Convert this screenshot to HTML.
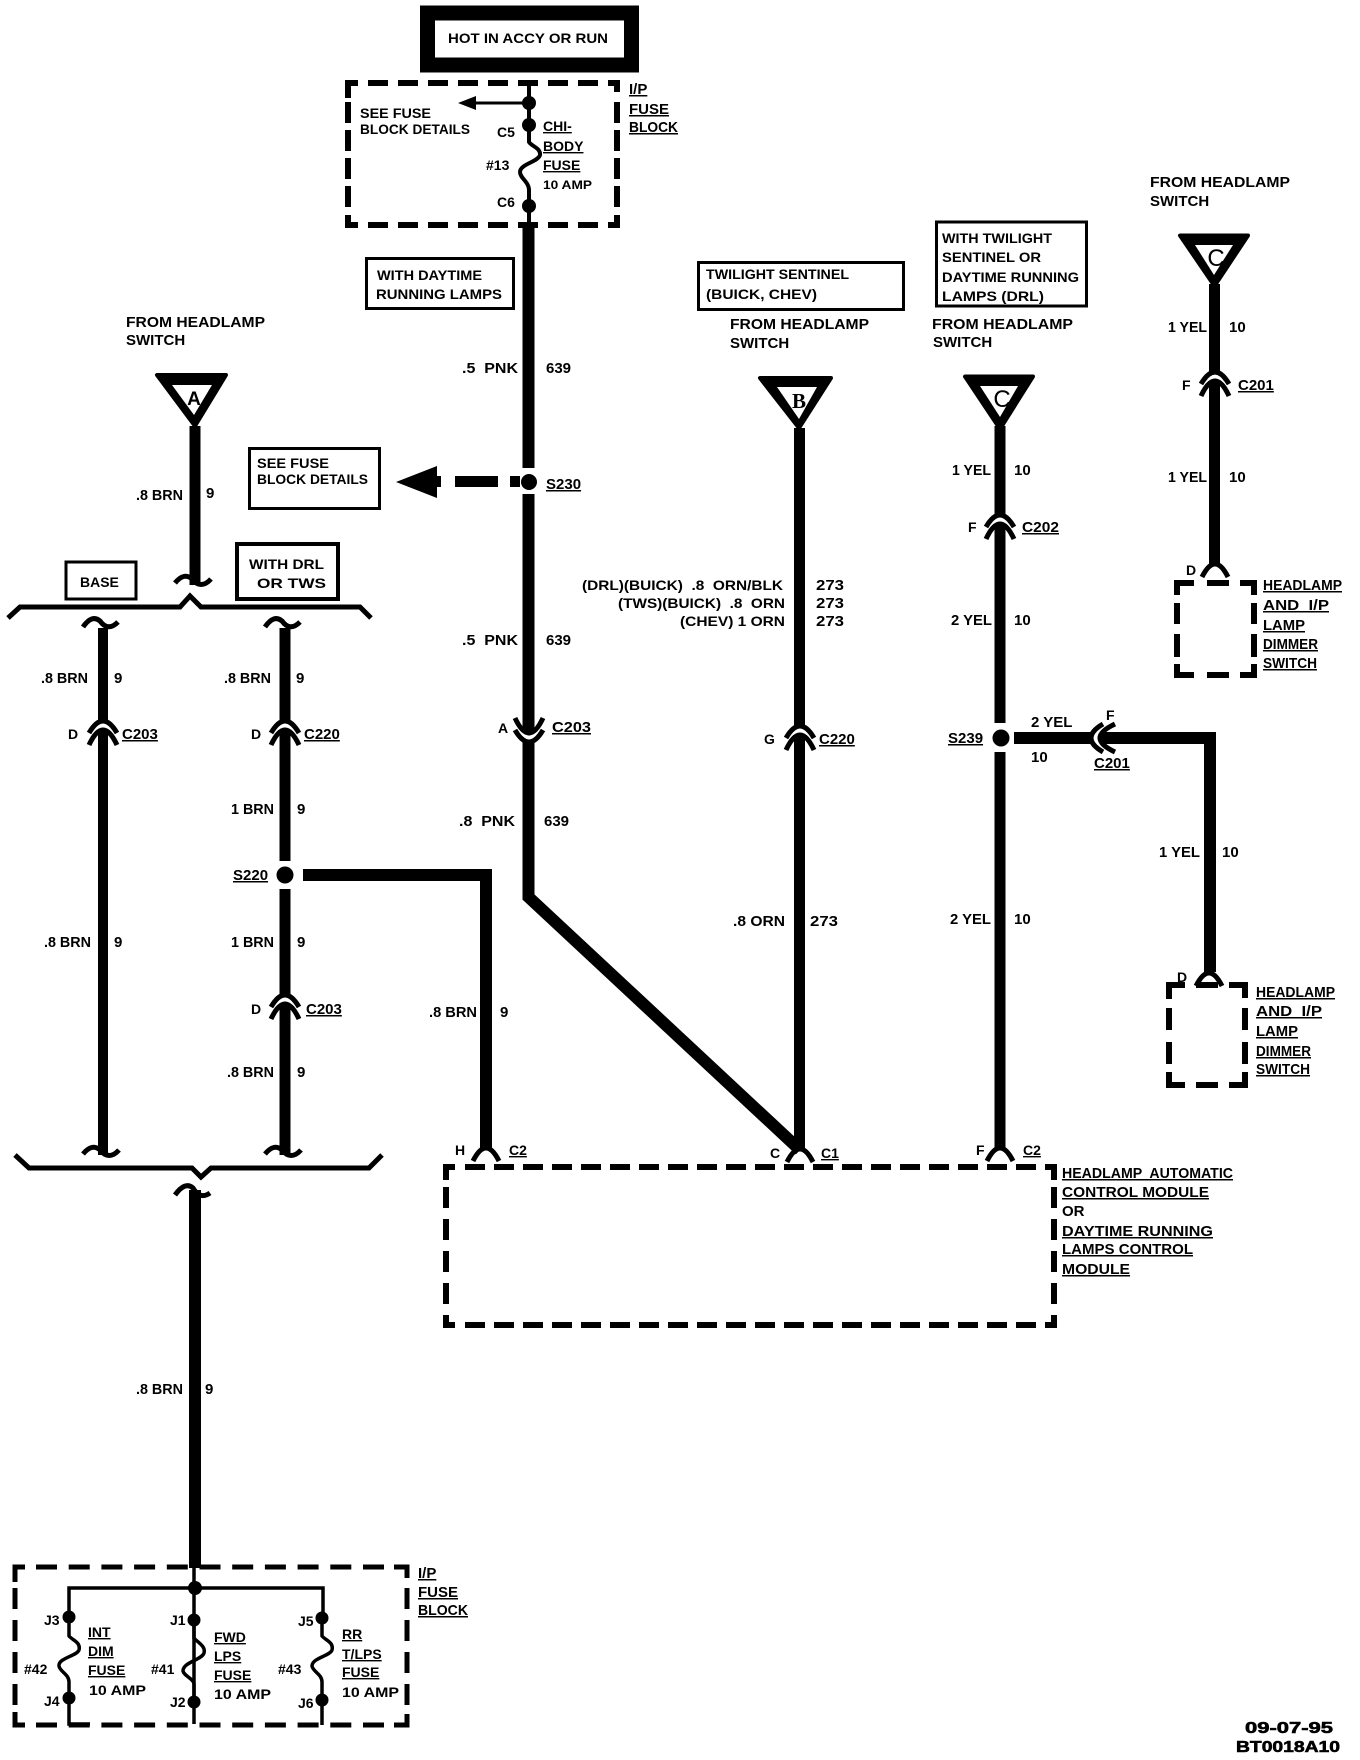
<!DOCTYPE html>
<html><head><meta charset="utf-8"><style>
html,body{margin:0;padding:0;background:#fff}
svg{display:block}
text{font:700 15px "Liberation Sans",sans-serif;fill:#000;white-space:pre}
.u{text-decoration:underline}
.s{font-size:14px}
.w{stroke:#000;fill:none;stroke-linejoin:miter}
.d{stroke:#000;fill:none;stroke-width:6}
</style></head><body>
<svg width="1360" height="1760" viewBox="0 0 1360 1760" xmlns="http://www.w3.org/2000/svg">
<defs>
<g id="cn">
<path d="M-10 3Q0 -18 10 3" fill="none" stroke="#fff" stroke-width="4"/>
<path d="M-14 0Q0 -24 14 0" fill="none" stroke="#000" stroke-width="5"/>
<path d="M-14 12Q0 -18 14 12" fill="none" stroke="#000" stroke-width="5"/>
</g>
<path id="cap" d="M-13 12Q0 -14 13 12" fill="none" stroke="#000" stroke-width="5"/>
<path id="smile" d="M-20 -1Q-11 -12 -3 -5Q6 6 16 -5" fill="none" stroke="#000" stroke-width="5"/>
</defs>
<rect width="1360" height="1760" fill="#fff"/>

<!-- top hot box -->
<rect x="427.500" y="13" width="204" height="52" fill="none" stroke="#000" stroke-width="15"/>
<text x="448" y="43" textLength="160" lengthAdjust="spacingAndGlyphs" class="s">HOT IN ACCY OR RUN</text>

<!-- I/P fuse box top -->
<g class="d">
<path d="M348 98V83H358"/><path d="M608 83H617V92"/><path d="M348 215V225H358"/><path d="M608 225H617V215"/>
<path d="M368 83H600" stroke-dasharray="20 10"/>
<path d="M368 225H600" stroke-dasharray="20 10"/>
<path d="M348 102V210" stroke-dasharray="21 7"/>
<path d="M617 102V210" stroke-dasharray="21 7"/>
</g>
<path class="w" stroke-width="4" d="M529 84V142C531 146 541 148 540 155C538 162 520 164 520 172C520 178 529 182 529 190V226"/>
<path class="w" stroke-width="3" d="M529 103H470"/>
<polygon points="458,103 476,96 476,110" fill="#000"/>
<circle cx="529" cy="103" r="7"/><circle cx="529" cy="125" r="7"/><circle cx="529" cy="206" r="7"/>
<text x="360" y="118" textLength="71" lengthAdjust="spacingAndGlyphs" class="s">SEE FUSE</text>
<text x="360" y="134" textLength="110" lengthAdjust="spacingAndGlyphs" class="s">BLOCK DETAILS</text>
<text x="497" y="137" class="s">C5</text><text x="486" y="170" class="s">#13</text><text x="497" y="207" class="s">C6</text>
<text x="543" y="131" class="s u">CHI-</text><text x="543" y="151" class="s u">BODY</text><text x="543" y="170" class="s u">FUSE</text>
<text x="543" y="189" textLength="49" lengthAdjust="spacingAndGlyphs" style="font-size:12px">10 AMP</text>
<text x="629" y="94" class="u">I/P</text><text x="629" y="114" class="u">FUSE</text><text x="629" y="132" class="u" textLength="49" lengthAdjust="spacingAndGlyphs">BLOCK</text>

<!-- info boxes -->
<rect x="366.500" y="258.500" width="147" height="50" fill="none" stroke="#000" stroke-width="3"/>
<text x="377" y="280" textLength="105" lengthAdjust="spacingAndGlyphs" class="s">WITH DAYTIME</text>
<text x="376" y="299" textLength="126" lengthAdjust="spacingAndGlyphs" class="s">RUNNING LAMPS</text>
<rect x="698.500" y="262.500" width="205" height="47" fill="none" stroke="#000" stroke-width="3"/>
<text x="706" y="279" textLength="143" lengthAdjust="spacingAndGlyphs" class="s">TWILIGHT SENTINEL</text>
<text x="706" y="299" textLength="111" lengthAdjust="spacingAndGlyphs" class="s">(BUICK, CHEV)</text>
<rect x="936.500" y="222" width="150" height="84" fill="none" stroke="#000" stroke-width="3"/>
<text x="942" y="243" textLength="110" lengthAdjust="spacingAndGlyphs" class="s">WITH TWILIGHT</text>
<text x="942" y="262" textLength="99" lengthAdjust="spacingAndGlyphs" class="s">SENTINEL OR</text>
<text x="942" y="282" textLength="137" lengthAdjust="spacingAndGlyphs" class="s">DAYTIME RUNNING</text>
<text x="942" y="301" textLength="102" lengthAdjust="spacingAndGlyphs" class="s">LAMPS (DRL)</text>
<rect x="249.500" y="448.500" width="130" height="60" fill="none" stroke="#000" stroke-width="3"/>
<text x="257" y="468" textLength="72" lengthAdjust="spacingAndGlyphs" class="s">SEE FUSE</text>
<text x="257" y="484" textLength="111" lengthAdjust="spacingAndGlyphs" class="s">BLOCK DETAILS</text>
<rect x="66" y="562" width="70" height="37" fill="none" stroke="#000" stroke-width="3"/>
<text x="80" y="587" class="s">BASE</text>
<rect x="237" y="544" width="101" height="55" fill="none" stroke="#000" stroke-width="4"/>
<text x="249" y="569" textLength="75" lengthAdjust="spacingAndGlyphs" class="s">WITH DRL</text>
<text x="257" y="588" textLength="69" lengthAdjust="spacingAndGlyphs" class="s">OR TWS</text>

<!-- FROM HEADLAMP -->
<text x="126" y="327" textLength="139" lengthAdjust="spacingAndGlyphs">FROM HEADLAMP</text><text x="126" y="345">SWITCH</text>
<text x="730" y="329" textLength="139" lengthAdjust="spacingAndGlyphs">FROM HEADLAMP</text><text x="730" y="348">SWITCH</text>
<text x="932" y="329" textLength="141" lengthAdjust="spacingAndGlyphs">FROM HEADLAMP</text><text x="933" y="347">SWITCH</text>
<text x="1150" y="187" textLength="140" lengthAdjust="spacingAndGlyphs">FROM HEADLAMP</text><text x="1150" y="206">SWITCH</text>

<!-- wires -->
<g class="w" stroke-width="12">
<path d="M528.500 226V468M528.500 494V897L800 1150" stroke-linejoin="miter"/>
<path d="M799.500 428V1150" stroke-width="11"/>
<path d="M1000 426V723M1000 752V1150" stroke-width="11"/>
<path d="M1214.500 284V566" stroke-width="11"/>
<path d="M1014 738H1210V972"/>
<path d="M195 426V585" stroke-width="11"/>
<path d="M103 628V1155" stroke-width="10"/>
<path d="M285 628V861M285 889V1155" stroke-width="11"/>
<path d="M303 875H486V1150"/>
<path d="M195 1190V1568" stroke-width="12"/>
</g>

<!-- triangles -->
<g stroke="#000" stroke-width="4" stroke-linejoin="round">
<polygon points="157,375 226,375 195,426"/>
<polygon points="760,378 831,378 799,428"/>
<polygon points="965,376.500 1033,376.500 1000,429"/>
<polygon points="1180,235.500 1248,235.500 1214.500,286"/>
</g>
<polygon points="172,385 212,385 194,415" fill="#fff"/>
<polygon points="777,387 817,387 799,419" fill="#fff"/>
<polygon points="980,386 1018,386 1000,417" fill="#fff"/>
<polygon points="1195,245 1233,245 1214,275" fill="#fff"/>
<text x="194" y="405" text-anchor="middle" style="font-size:19px">A</text>
<text x="799" y="408" text-anchor="middle" style="font:700 21px 'Liberation Serif',serif">B</text>
<text x="1002" y="407" text-anchor="middle" style="font-size:24px;font-weight:400">C</text>
<text x="1216" y="266" text-anchor="middle" style="font-size:24px;font-weight:400">C</text>

<!-- brackets -->
<path class="w" stroke-width="5" d="M8 618L20 607H180L190 596L201 607H360L371 618"/>
<path class="w" stroke-width="5" d="M15 1155L29 1168H192L201 1177L211 1168H369L382 1155"/>
<use href="#smile" transform="translate(195,584)"/>
<path d="M83 627Q92 614 100 621Q108 632 118 622" fill="none" stroke="#000" stroke-width="5"/>
<path d="M265 627Q274 614 282 621Q290 632 300 622" fill="none" stroke="#000" stroke-width="5"/>
<use href="#smile" transform="translate(103,1155)"/>
<use href="#smile" transform="translate(285,1155)"/>
<path d="M175 1195Q185 1181 193 1188Q200 1200 210 1193" fill="none" stroke="#000" stroke-width="5"/>

<!-- connectors -->
<use href="#cn" transform="translate(103,733)"/>
<use href="#cn" transform="translate(285,733)"/>
<use href="#cn" transform="translate(285,1007)"/>
<use href="#cn" transform="translate(529,730) rotate(180)"/>
<use href="#cn" transform="translate(800,738)"/>
<use href="#cn" transform="translate(1000,527)"/>
<use href="#cn" transform="translate(1215,384)"/>
<use href="#cn" transform="translate(1103,738) rotate(-90)"/>
<use href="#cap" transform="translate(486,1149)"/>
<use href="#cap" transform="translate(800,1150)"/>
<use href="#cap" transform="translate(1000,1149)"/>
<use href="#cap" transform="translate(1215,565)"/>
<use href="#cap" transform="translate(1209,974)"/>

<!-- splices -->
<circle cx="529" cy="482" r="8"/><circle cx="285" cy="875" r="8.500"/><circle cx="1001" cy="738" r="8.500"/>
<rect x="510" y="476" width="10" height="11"/><rect x="455" y="476" width="43" height="11"/>
<polygon points="396,482 437,466 437,498"/><rect x="436" y="476" width="5" height="11"/>

<!-- wire labels -->
<text x="462" y="373" textLength="56" lengthAdjust="spacingAndGlyphs">.5  PNK</text><text x="546" y="373">639</text>
<text x="546" y="489" class="u">S230</text>
<text x="462" y="645" textLength="56" lengthAdjust="spacingAndGlyphs">.5  PNK</text><text x="546" y="645">639</text>
<text x="498" y="733" class="s">A</text><text x="552" y="732" class="u" textLength="39" lengthAdjust="spacingAndGlyphs">C203</text>
<text x="459" y="826" textLength="56" lengthAdjust="spacingAndGlyphs">.8  PNK</text><text x="544" y="826">639</text>
<text x="582" y="590" textLength="201" lengthAdjust="spacingAndGlyphs" class="s">(DRL)(BUICK)  .8  ORN/BLK</text><text x="816" y="590" textLength="28" lengthAdjust="spacingAndGlyphs">273</text>
<text x="618" y="608" textLength="167" lengthAdjust="spacingAndGlyphs" class="s">(TWS)(BUICK)  .8  ORN</text><text x="816" y="608" textLength="28" lengthAdjust="spacingAndGlyphs">273</text>
<text x="680" y="626" textLength="105" lengthAdjust="spacingAndGlyphs" class="s">(CHEV) 1 ORN</text><text x="816" y="626" textLength="28" lengthAdjust="spacingAndGlyphs">273</text>
<text x="764" y="744" class="s">G</text><text x="819" y="744" class="u">C220</text>
<text x="733" y="926" textLength="52" lengthAdjust="spacingAndGlyphs">.8 ORN</text><text x="810" y="926" textLength="28" lengthAdjust="spacingAndGlyphs">273</text>

<text x="136" y="500" textLength="47" lengthAdjust="spacingAndGlyphs">.8 BRN</text><text x="206" y="498">9</text>
<text x="41" y="683" textLength="47" lengthAdjust="spacingAndGlyphs">.8 BRN</text><text x="114" y="683">9</text>
<text x="224" y="683" textLength="47" lengthAdjust="spacingAndGlyphs">.8 BRN</text><text x="296" y="683">9</text>
<text x="68" y="739" class="s">D</text><text x="122" y="739" class="u">C203</text>
<text x="251" y="739" class="s">D</text><text x="304" y="739" class="u">C220</text>
<text x="231" y="814" textLength="43" lengthAdjust="spacingAndGlyphs">1 BRN</text><text x="297" y="814">9</text>
<text x="233" y="880" class="u">S220</text>
<text x="231" y="947" textLength="43" lengthAdjust="spacingAndGlyphs">1 BRN</text><text x="297" y="947">9</text>
<text x="44" y="947" textLength="47" lengthAdjust="spacingAndGlyphs">.8 BRN</text><text x="114" y="947">9</text>
<text x="251" y="1014" class="s">D</text><text x="306" y="1014" class="u">C203</text>
<text x="227" y="1077" textLength="47" lengthAdjust="spacingAndGlyphs">.8 BRN</text><text x="297" y="1077">9</text>
<text x="429" y="1017" textLength="48" lengthAdjust="spacingAndGlyphs">.8 BRN</text><text x="500" y="1017">9</text>
<text x="136" y="1394" textLength="47" lengthAdjust="spacingAndGlyphs">.8 BRN</text><text x="205" y="1394">9</text>

<text x="952" y="475" textLength="39" lengthAdjust="spacingAndGlyphs">1 YEL</text><text x="1014" y="475">10</text>
<text x="968" y="532" class="s">F</text><text x="1022" y="532" class="u" textLength="37" lengthAdjust="spacingAndGlyphs">C202</text>
<text x="951" y="625" textLength="41" lengthAdjust="spacingAndGlyphs">2 YEL</text><text x="1014" y="625">10</text>
<text x="948" y="743" class="u">S239</text>
<text x="1031" y="727">2 YEL</text><text x="1031" y="762">10</text>
<text x="1106" y="720" class="s">F</text><text x="1094" y="768" class="u">C201</text>
<text x="950" y="924" textLength="41" lengthAdjust="spacingAndGlyphs">2 YEL</text><text x="1014" y="924">10</text>
<text x="1159" y="857" textLength="41" lengthAdjust="spacingAndGlyphs">1 YEL</text><text x="1222" y="857">10</text>
<text x="1168" y="332" textLength="39" lengthAdjust="spacingAndGlyphs">1 YEL</text><text x="1229" y="332">10</text>
<text x="1182" y="390" class="s">F</text><text x="1238" y="390" class="u">C201</text>
<text x="1168" y="482" textLength="39" lengthAdjust="spacingAndGlyphs">1 YEL</text><text x="1229" y="482">10</text>

<!-- upper dimmer -->
<g class="d">
<path d="M1177 595V583H1194"/><path d="M1240 583H1254V595"/><path d="M1177 664V675H1194"/><path d="M1240 675H1254V664"/>
<path d="M1207 583H1229M1207 675H1229"/>
<path d="M1177 603V624M1177 634V657M1254 603V624M1254 634V657"/>
</g>
<text x="1186" y="575" class="s">D</text>
<text x="1263" y="590" class="u" textLength="79" lengthAdjust="spacingAndGlyphs">HEADLAMP</text><text x="1263" y="610" class="u" textLength="66" lengthAdjust="spacingAndGlyphs">AND  I/P</text><text x="1263" y="630" class="u" textLength="42" lengthAdjust="spacingAndGlyphs">LAMP</text><text x="1263" y="649" class="u" textLength="55" lengthAdjust="spacingAndGlyphs">DIMMER</text><text x="1263" y="668" class="u" textLength="54" lengthAdjust="spacingAndGlyphs">SWITCH</text>

<!-- lower dimmer -->
<g class="d">
<path d="M1169 999V985H1185"/><path d="M1229 985H1245V998"/><path d="M1169 1072V1085H1185"/><path d="M1229 1085H1245V1072"/>
<path d="M1196 985H1218M1196 1085H1218"/>
<path d="M1169 1008V1030M1169 1042V1064M1245 1008V1030M1245 1042V1064"/>
</g>
<text x="1177" y="982" class="s">D</text>
<text x="1256" y="997" class="u" textLength="79" lengthAdjust="spacingAndGlyphs">HEADLAMP</text><text x="1256" y="1016" class="u" textLength="66" lengthAdjust="spacingAndGlyphs">AND  I/P</text><text x="1256" y="1036" class="u" textLength="42" lengthAdjust="spacingAndGlyphs">LAMP</text><text x="1256" y="1056" class="u" textLength="55" lengthAdjust="spacingAndGlyphs">DIMMER</text><text x="1256" y="1074" class="u" textLength="54" lengthAdjust="spacingAndGlyphs">SWITCH</text>

<!-- module -->
<g class="d">
<path d="M446 1180V1167H455"/><path d="M1045 1167H1054V1180"/><path d="M446 1315V1325H455"/><path d="M1045 1325H1054V1315"/>
<path d="M465 1167H1038" stroke-dasharray="20 9"/>
<path d="M465 1325H1038" stroke-dasharray="20 9"/>
<path d="M446 1187V1305" stroke-dasharray="21 11"/>
<path d="M1054 1187V1305" stroke-dasharray="21 11"/>
</g>
<text x="455" y="1155" class="s">H</text><text x="509" y="1155" class="s u">C2</text>
<text x="770" y="1158" class="s">C</text><text x="821" y="1158" class="s u">C1</text>
<text x="976" y="1155" class="s">F</text><text x="1023" y="1155" class="s u">C2</text>
<text x="1062" y="1178" textLength="171" lengthAdjust="spacingAndGlyphs" class="u">HEADLAMP  AUTOMATIC</text>
<text x="1062" y="1197" textLength="147" lengthAdjust="spacingAndGlyphs" class="u">CONTROL MODULE</text>
<text x="1062" y="1216">OR</text>
<text x="1062" y="1236" textLength="151" lengthAdjust="spacingAndGlyphs" class="u">DAYTIME RUNNING</text>
<text x="1062" y="1254" textLength="131" lengthAdjust="spacingAndGlyphs" class="u">LAMPS CONTROL</text>
<text x="1062" y="1274" textLength="68" lengthAdjust="spacingAndGlyphs" class="u">MODULE</text>

<!-- bottom fuse block -->
<g class="d" style="stroke-width:5">
<path d="M15 1582V1567H25"/><path d="M394 1567H407V1578"/><path d="M15 1712V1725H25"/><path d="M394 1725H407V1714"/>
<path d="M36 1567H385" stroke-dasharray="21 11.700"/>
<path d="M36 1725H385" stroke-dasharray="21 11.700"/>
<path d="M15 1588V1706" stroke-dasharray="21 11"/>
<path d="M407 1588V1706" stroke-dasharray="21 11"/>
</g>
<g class="w" stroke-width="3.500">
<path d="M69 1616V1588H323V1616"/>
<path d="M194 1565V1724"/>
<path d="M69 1617V1636C72 1640 81 1642 79 1650C77 1656 58 1658 59 1666C60 1672 69 1674 69 1682V1724H90"/>
<path d="M194 1620V1638C197 1642 206 1646 204 1653C202 1660 183 1662 183 1671C184 1676 194 1679 194 1684V1702" />
<path d="M322 1618V1636C325 1640 334 1642 332 1650C330 1656 312 1658 312 1666C313 1672 322 1674 322 1682V1725"/>
</g>
<circle cx="195" cy="1588" r="7"/>
<circle cx="69" cy="1617" r="6.500"/><circle cx="69" cy="1698" r="6.500"/>
<circle cx="194" cy="1620" r="6.500"/><circle cx="194" cy="1702" r="6.500"/>
<circle cx="322" cy="1618" r="6.500"/><circle cx="322" cy="1700" r="6.500"/>
<text x="44" y="1625" class="s">J3</text><text x="44" y="1706" class="s">J4</text>
<text x="170" y="1625" class="s">J1</text><text x="170" y="1707" class="s">J2</text>
<text x="298" y="1626" class="s">J5</text><text x="298" y="1708" class="s">J6</text>
<text x="24" y="1674" class="s">#42</text><text x="151" y="1674" class="s">#41</text><text x="278" y="1674" class="s">#43</text>
<text x="88" y="1637" class="s u">INT</text><text x="88" y="1656" class="s u">DIM</text><text x="88" y="1675" class="s u">FUSE</text>
<text x="89" y="1695" textLength="57" lengthAdjust="spacingAndGlyphs" class="s">10 AMP</text>
<text x="214" y="1642" class="s u">FWD</text><text x="214" y="1661" class="s u">LPS</text><text x="214" y="1680" class="s u">FUSE</text>
<text x="214" y="1699" textLength="57" lengthAdjust="spacingAndGlyphs" class="s">10 AMP</text>
<text x="342" y="1639" class="s u">RR</text><text x="342" y="1659" class="s u">T/LPS</text><text x="342" y="1677" class="s u">FUSE</text>
<text x="342" y="1697" textLength="57" lengthAdjust="spacingAndGlyphs" class="s">10 AMP</text>
<text x="418" y="1578" class="u">I/P</text><text x="418" y="1597" class="u">FUSE</text><text x="418" y="1615" class="u" textLength="50" lengthAdjust="spacingAndGlyphs">BLOCK</text>

<!-- footer -->
<text x="1245" y="1733" textLength="88" lengthAdjust="spacingAndGlyphs" style="font-size:16px;stroke:#000;stroke-width:.6">09-07-95</text>
<text x="1236" y="1752" textLength="104" lengthAdjust="spacingAndGlyphs" style="font-size:16px;stroke:#000;stroke-width:.6">BT0018A10</text>
</svg>
</body></html>
